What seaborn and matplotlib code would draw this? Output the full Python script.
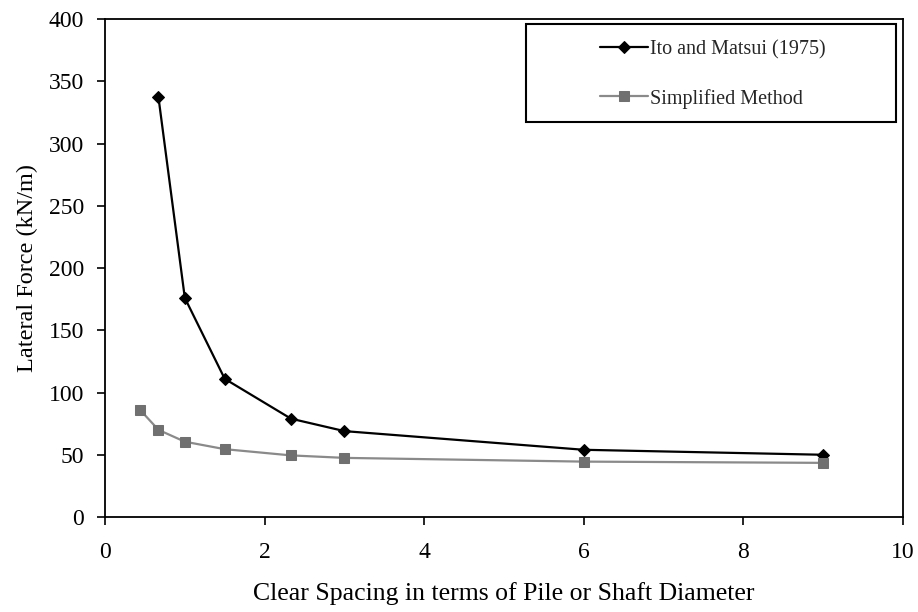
import matplotlib
matplotlib.use("Agg")
import matplotlib.pyplot as plt
import seaborn as sns
import pandas as pd
from matplotlib.patches import Rectangle

ito_x = [0.67, 1.0, 1.5, 2.33, 3.0, 6.0, 9.0]
ito_y = [337, 176, 111, 79, 69, 54, 50]
simp_x = [0.44, 0.67, 1.0, 1.5, 2.33, 3.0, 6.0, 9.0]
simp_y = [86, 70, 60.5, 54.5, 49.5, 47.5, 44.5, 43.5]
x_ticks = [0, 2, 4, 6, 8, 10]
y_ticks = [0, 50, 100, 150, 200, 250, 300, 350, 400]

sns.set_theme(style="ticks")
plt.rcParams["font.family"] = ["Liberation Serif", "DejaVu Serif"]

fig = plt.figure(figsize=(9.18, 6.12), dpi=100)
ax = fig.add_axes([0.1144, 0.1552, 0.8693, 0.8137])

df_ito = pd.DataFrame({"x": ito_x, "y": ito_y})
df_simp = pd.DataFrame({"x": simp_x, "y": simp_y})

sns.lineplot(data=df_ito, x="x", y="y", ax=ax, color="black", lw=1.6,
             marker="D", markersize=6.5, markeredgecolor="black",
             label="Ito and Matsui (1975)", sort=False)
sns.lineplot(data=df_simp, x="x", y="y", ax=ax, color="#8a8a8a", lw=1.6,
             marker="s", markersize=7, markerfacecolor="#707070",
             markeredgecolor="#707070", label="Simplified Method", sort=False)

ax.set_xlim(0, 10)
ax.set_ylim(0, 400)
ax.set_xticks(x_ticks)
ax.set_yticks(y_ticks)
ax.tick_params(axis="both", direction="out", length=6, width=1.2,
               labelsize=17, colors="black")
ax.tick_params(axis="x", pad=12)
ax.tick_params(axis="y", pad=9)
for s in ax.spines.values():
    s.set_visible(True)
    s.set_color("black")
    s.set_linewidth(1.3)

ax.set_xlabel("Clear Spacing in terms of Pile or Shaft Diameter", fontsize=18.5,
              labelpad=14, color="black")
ax.set_ylabel("Lateral Force (kN/m)", fontsize=17.5, labelpad=8, color="black")

leg = ax.legend(loc="upper left", bbox_to_anchor=(0.597, 0.994), frameon=False,
                fontsize=14.5, labelspacing=1.45, handlelength=2.4,
                handletextpad=0.1, borderpad=0.4)
ax.add_patch(Rectangle((0.527, 0.793), 0.464, 0.198, transform=ax.transAxes,
                       fill=False, edgecolor="black", lw=1.5, zorder=5,
                       clip_on=False))

fig.savefig("out.png", dpi=100)
